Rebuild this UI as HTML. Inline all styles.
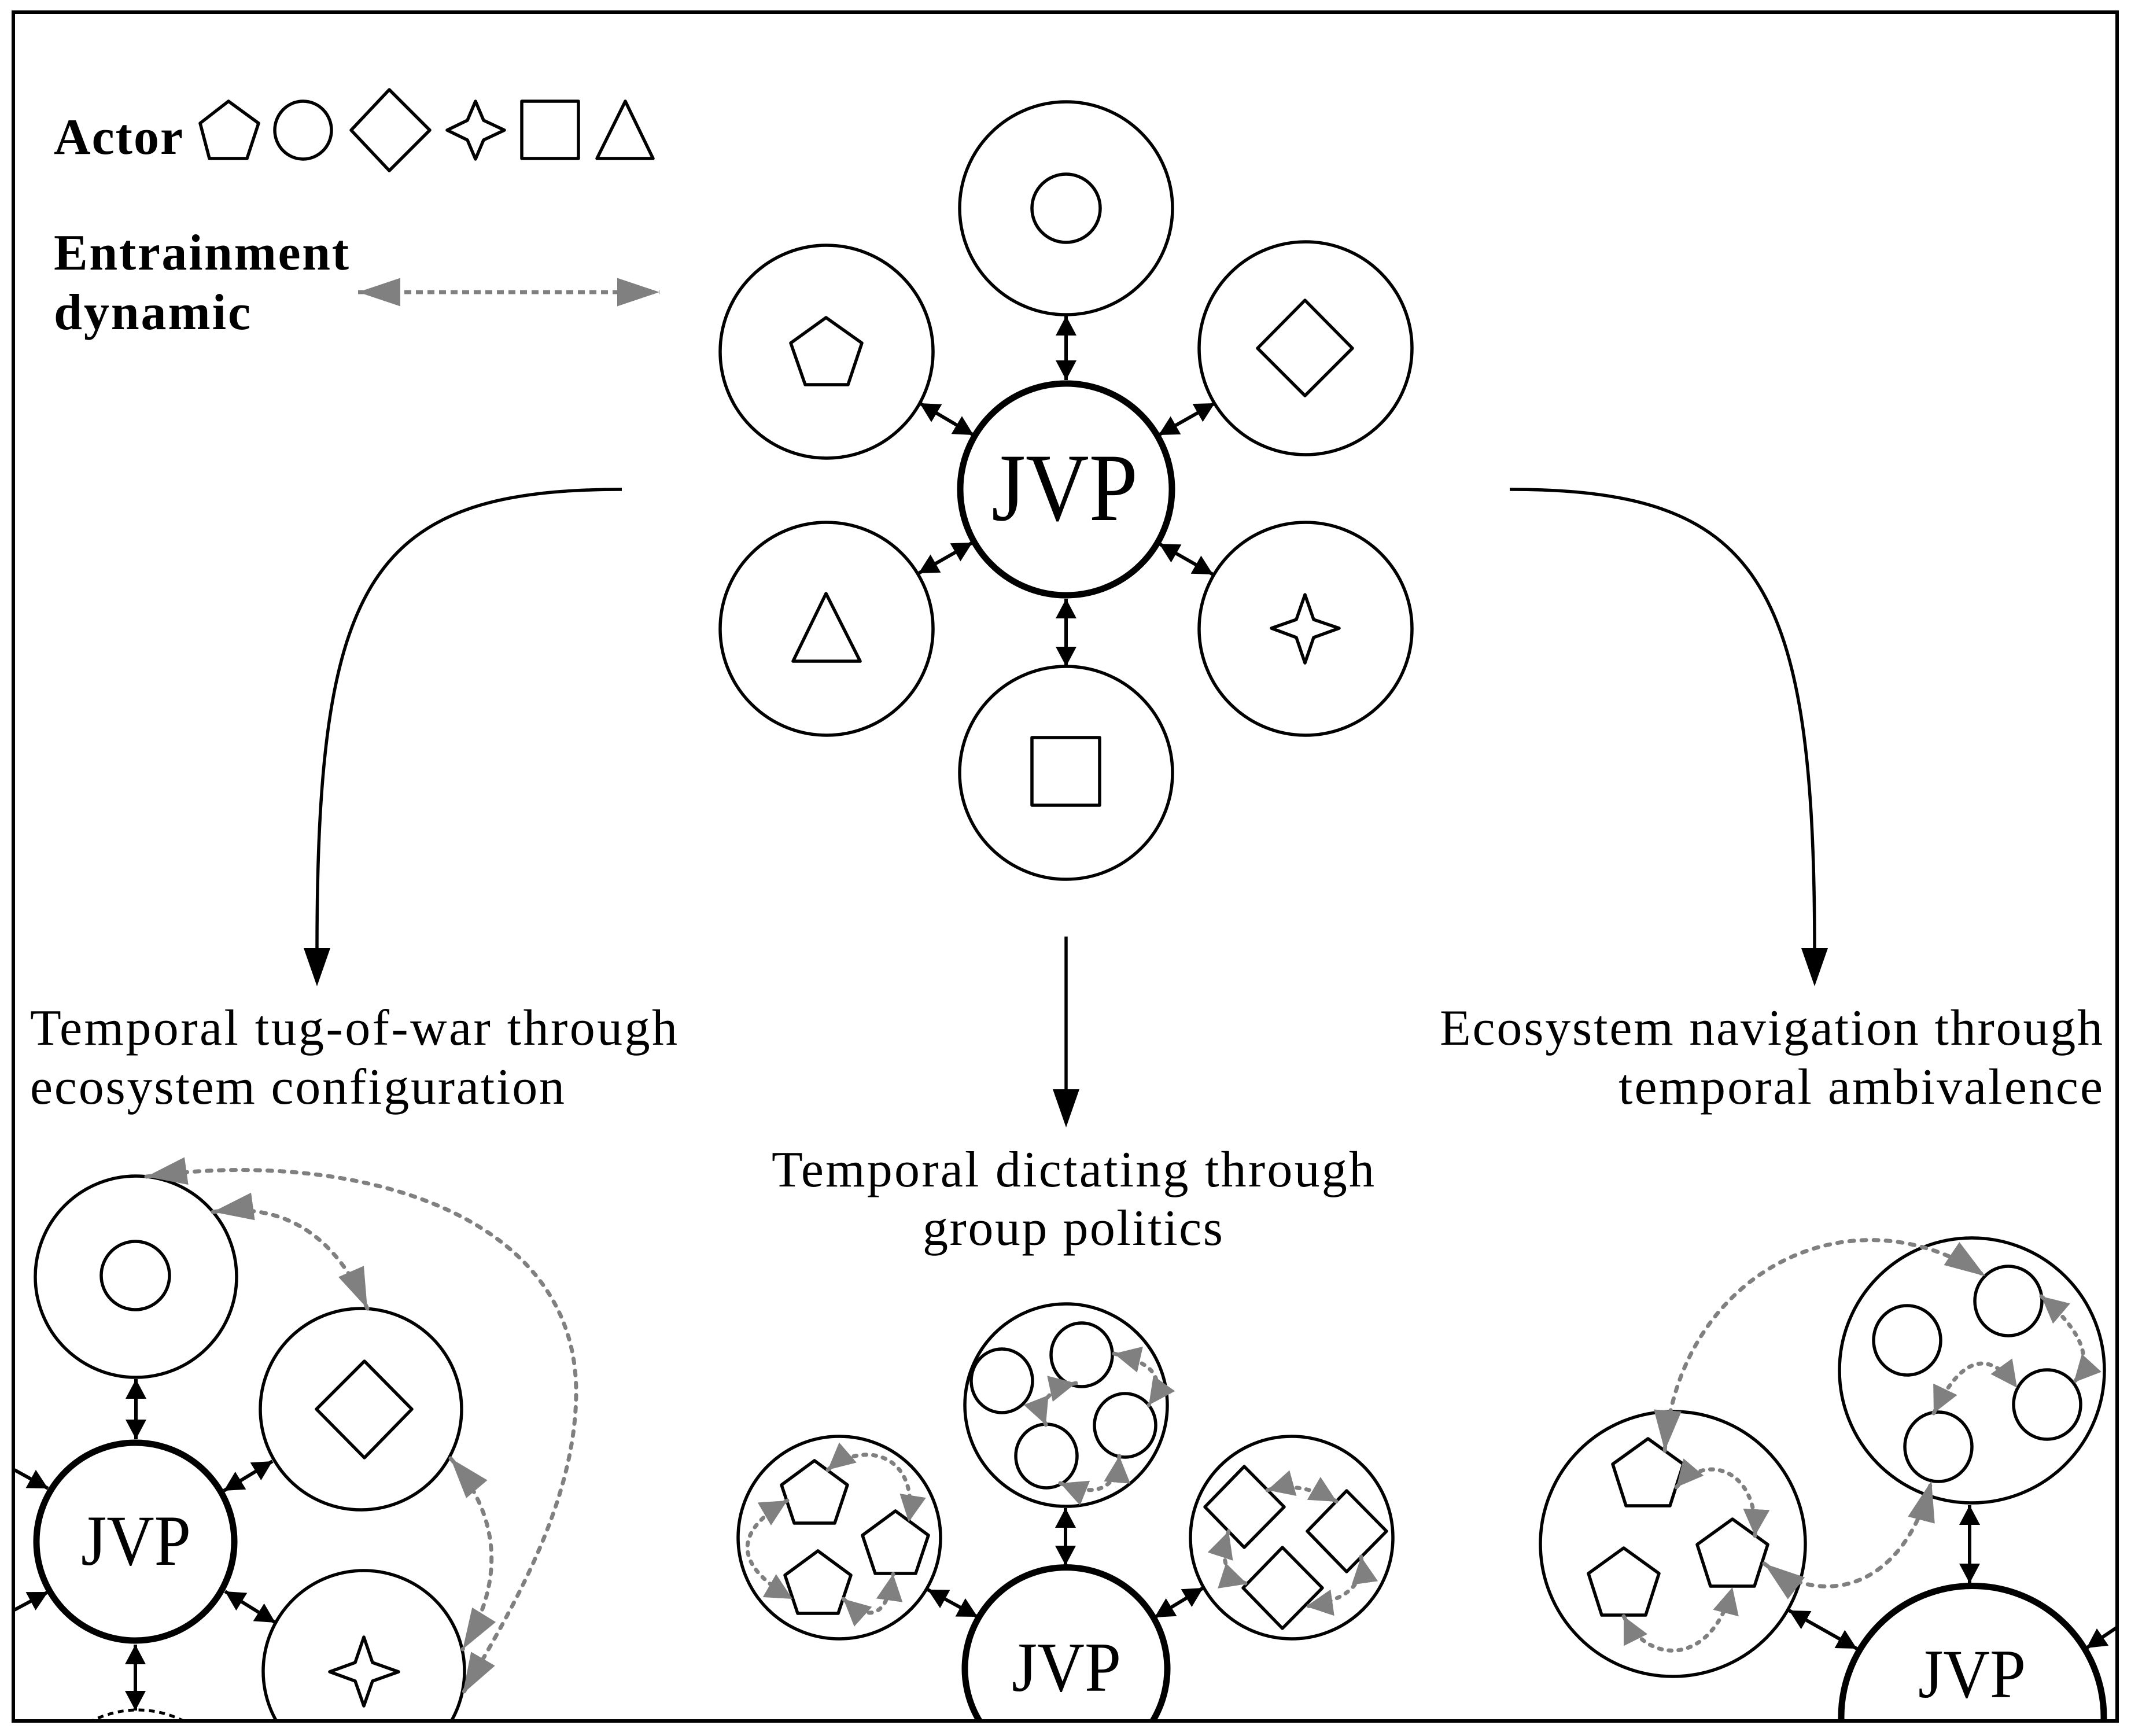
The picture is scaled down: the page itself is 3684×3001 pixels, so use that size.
<!DOCTYPE html>
<html><head><meta charset="utf-8"><title>JVP entrainment diagram</title>
<style>html,body{margin:0;padding:0;background:#fff;width:3684px;height:3001px;overflow:hidden}svg{display:block;overflow:hidden}
text{font-family:"Liberation Serif",serif;fill:#000}
.b{font-weight:bold;font-size:88px}.t{font-size:88px}
.c{fill:#fff;stroke:#000;stroke-width:5.5}.j{fill:#fff;stroke:#000;stroke-width:11}
.s{fill:#fff;stroke:#000;stroke-width:5.5;stroke-linejoin:round}
.k{stroke:#000;stroke-width:6;fill:none;marker-start:url(#bk);marker-end:url(#bk)}
.g{stroke:#808080;stroke-width:7;fill:none;stroke-dasharray:8 13;stroke-linecap:round;marker-start:url(#gb);marker-end:url(#gb)}
.h{stroke:#808080;stroke-width:7;fill:none;stroke-dasharray:5 12;stroke-linecap:round;marker-start:url(#gs);marker-end:url(#gs)}
</style></head><body>
<svg xmlns="http://www.w3.org/2000/svg" width="3684" height="3001" viewBox="0 0 3684 3001">
<defs>
<marker id="bk" markerUnits="userSpaceOnUse" markerWidth="34" markerHeight="36" viewBox="0 0 34 36" refX="34" refY="18" orient="auto-start-reverse"><path d="M0,0L34,18L0,36z" fill="#000"/></marker>
<marker id="gb" markerUnits="userSpaceOnUse" markerWidth="70" markerHeight="48" viewBox="0 0 70 48" refX="70" refY="24" orient="auto-start-reverse"><path d="M0,0L70,24L0,48z" fill="#808080"/></marker>
<marker id="gs" markerUnits="userSpaceOnUse" markerWidth="46" markerHeight="46" viewBox="0 0 46 46" refX="46" refY="23" orient="auto-start-reverse"><path d="M0,0L46,23L0,46z" fill="#808080"/></marker>
<marker id="gl" markerUnits="userSpaceOnUse" markerWidth="73" markerHeight="49" viewBox="0 0 73 49" refX="73" refY="24.5" orient="auto-start-reverse"><path d="M0,0L73,24.5L0,49z" fill="#808080"/></marker>
<marker id="ar" markerUnits="userSpaceOnUse" markerWidth="66" markerHeight="46" viewBox="0 0 66 46" refX="3" refY="23" orient="auto"><path d="M0,0L66,23L0,46z" fill="#000"/></marker>
<clipPath id="clip"><rect x="23" y="21" width="3637" height="2954"/></clipPath>
<polygon id="p1" points="0,0 57,42 35,108 -35,108 -57,42" class="s"/>
<polygon id="p2" points="0,0 61,44 38,116 -38,116 -61,44" class="s"/>
<polygon id="d1" points="0,-70 69,0 0,70 -68,0" class="s"/>
</defs>
<rect width="3684" height="3001" fill="#fff"/>
<g clip-path="url(#clip)">

<!-- legend -->
<text class="b" x="93" y="266" textLength="223" lengthAdjust="spacing">Actor</text>
<polygon class="s" points="395,175 447,213 427,274 362,274 346,213"/>
<ellipse class="c" cx="524" cy="225" rx="49" ry="50"/>
<polygon class="s" points="673,155 743,225 673,295 607,225"/>
<polygon class="s" points="822,175 836,208 872,225 836,242 822,275 808,242 773,225 808,208"/>
<rect class="s" x="902" y="175" width="98" height="99"/>
<polygon class="s" points="1081,175 1129,274 1032,274"/>
<text class="b" x="93" y="466" textLength="510" lengthAdjust="spacing">Entrainment</text>
<text class="b" x="93" y="569" textLength="340" lengthAdjust="spacing">dynamic</text>
<line x1="619" y1="505" x2="1140" y2="505" stroke="#808080" stroke-width="7" stroke-dasharray="12 8" marker-start="url(#gl)" marker-end="url(#gl)"/>

<!-- center cluster -->
<circle class="c" cx="1843" cy="360" r="184"/><circle class="c" cx="1843" cy="360" r="59"/>
<circle class="c" cx="1429" cy="608" r="184"/><polygon class="s" points="1428,549 1490,593 1466,665 1392,665 1367,593"/>
<circle class="c" cx="2257" cy="602" r="184"/><polygon class="s" points="2256,519 2338,602 2256,684 2174,602"/>
<circle class="c" cx="1429" cy="1087" r="184"/><polygon class="s" points="1428,1026 1487,1143 1371,1143"/>
<circle class="c" cx="2257" cy="1087" r="184"/><polygon class="s" points="2256,1028 2271,1071 2315,1086 2271,1102 2256,1146 2241,1102 2198,1086 2241,1071"/>
<circle class="c" cx="1843" cy="1336" r="184"/><rect class="s" x="1784" y="1275" width="117" height="117"/>
<circle class="j" cx="1843" cy="846" r="183"/>
<text x="1714" y="899" font-size="167" textLength="253" lengthAdjust="spacingAndGlyphs">JVP</text>
<line class="k" x1="1843" y1="546" x2="1843" y2="657"/>
<line class="k" x1="1590" y1="697" x2="1683" y2="752"/>
<line class="k" x1="2100" y1="697" x2="2003" y2="752"/>
<line class="k" x1="1588" y1="991" x2="1681" y2="938"/>
<line class="k" x1="2097" y1="993" x2="2004" y2="940"/>
<line class="k" x1="1843" y1="1035" x2="1843" y2="1152"/>

<!-- long arrows -->
<path d="M1075,846C640,846 548,1000 548,1642" fill="none" stroke="#000" stroke-width="5.5" marker-end="url(#ar)"/>
<path d="M2610,846C3040,846 3137,1000 3137,1642" fill="none" stroke="#000" stroke-width="5.5" marker-end="url(#ar)"/>
<line x1="1843" y1="1619" x2="1843" y2="1886" stroke="#000" stroke-width="5.5" marker-end="url(#ar)"/>

<!-- captions -->
<text class="t" x="52" y="1806" textLength="1119" lengthAdjust="spacing">Temporal tug-of-war through</text>
<text class="t" x="52" y="1908" textLength="924" lengthAdjust="spacing">ecosystem configuration</text>
<text class="t" x="2489" y="1806" textLength="1146" lengthAdjust="spacing">Ecosystem navigation through</text>
<text class="t" x="2798" y="1908" textLength="837" lengthAdjust="spacing">temporal ambivalence</text>
<text class="t" x="1334" y="2051" textLength="1042" lengthAdjust="spacing">Temporal dictating through</text>
<text class="t" x="1595" y="2152" textLength="519" lengthAdjust="spacing">group politics</text>

<!-- lower left -->
<circle class="c" cx="235" cy="2207" r="174"/><circle class="c" cx="234" cy="2205" r="59"/>
<circle class="c" cx="624" cy="2436" r="174"/><polygon class="s" points="630,2353 712,2436 630,2520 547,2436"/>
<path class="c" d="M479.5,2978A174,174 0 1 1 778.5,2978"/><polygon class="s" points="629,2830 644,2874 689,2890 644,2906 629,2949 614,2906 570,2890 614,2874"/>
<path d="M153.3,2978A174,174 0 0 1 322.7,2978" fill="#fff" stroke="#000" stroke-width="5" stroke-dasharray="10 8"/>
<circle class="j" cx="234" cy="2665" r="171"/>
<text x="140" y="2705" font-size="124" textLength="190" lengthAdjust="spacingAndGlyphs">JVP</text>
<line class="k" x1="235" y1="2384" x2="235" y2="2488"/>
<line class="k" x1="471" y1="2526" x2="387" y2="2577"/>
<line class="k" x1="389" y1="2751" x2="476" y2="2805"/>
<line class="k" x1="234" y1="2843" x2="234" y2="2957"/>
<line x1="25" y1="2541" x2="83" y2="2573" stroke="#000" stroke-width="6" marker-end="url(#bk)"/>
<line x1="25" y1="2783" x2="83" y2="2752" stroke="#000" stroke-width="6" marker-end="url(#bk)"/>
<path class="g" d="M253,2034C600,1985 996,2090 996,2406C996,2600 880,2790 800,2928"/>
<path class="g" d="M368,2095Q551,2070 635,2262"/>
<path class="g" d="M779,2521Q909,2674 800,2851"/>

<!-- lower middle -->
<circle class="c" cx="1843" cy="2429" r="175"/>
<ellipse class="c" cx="1732" cy="2387" rx="53" ry="55"/>
<ellipse class="c" cx="1870" cy="2342" rx="53" ry="55"/>
<ellipse class="c" cx="1945" cy="2464" rx="53" ry="55"/>
<ellipse class="c" cx="1809" cy="2517" rx="53" ry="55"/>
<circle class="c" cx="1451" cy="2658" r="175"/>
<use href="#p1" x="1408" y="2525"/><use href="#p1" x="1548" y="2612"/><use href="#p1" x="1414" y="2681"/>
<circle class="c" cx="2233" cy="2658" r="175"/>
<use href="#d1" x="2151" y="2605"/><use href="#d1" x="2328" y="2647"/><use href="#d1" x="2217" y="2745"/>
<path class="j" d="M1695,2978A175,175 0 1 1 1991,2978"/>
<text x="1749" y="2923" font-size="122" textLength="189" lengthAdjust="spacingAndGlyphs">JVP</text>
<line class="k" x1="1842" y1="2607" x2="1842" y2="2706"/>
<line class="k" x1="1604" y1="2748" x2="1690" y2="2795"/>
<line class="k" x1="2080" y1="2745" x2="1996" y2="2796"/>
<path class="h" d="M1431,2541C1490,2490 1590,2510 1571,2631"/>
<path class="h" d="M1361,2594Q1219,2677 1370,2764"/>
<path class="h" d="M1458,2764Q1529,2828 1544,2721"/>
<path class="h" d="M1926,2340Q2032,2364 1986,2429"/>
<path class="h" d="M1860,2391Q1786,2407 1808,2463"/>
<path class="h" d="M1833,2564Q1928,2602 1935,2517"/>
<path class="h" d="M2191,2576Q2249,2560 2311,2596"/>
<path class="h" d="M2124,2647Q2100,2720 2156,2738"/>
<path class="h" d="M2353,2691Q2363,2762 2258,2777"/>

<!-- lower right -->
<circle class="c" cx="3409" cy="2369" r="229"/>
<ellipse class="c" cx="3297" cy="2317" rx="58" ry="60"/>
<ellipse class="c" cx="3472" cy="2249" rx="58" ry="60"/>
<ellipse class="c" cx="3539" cy="2428" rx="58" ry="60"/>
<ellipse class="c" cx="3351" cy="2501" rx="58" ry="60"/>
<circle class="c" cx="2892" cy="2669" r="229"/>
<use href="#p2" x="2849" y="2487"/><use href="#p2" x="2995" y="2626"/><use href="#p2" x="2807" y="2676"/>
<path class="j" d="M3183.2,2978A227,227 0 1 1 3636.8,2978"/>
<text x="3316" y="2934" font-size="120" textLength="186" lengthAdjust="spacingAndGlyphs">JVP</text>
<line class="k" x1="3405" y1="2602" x2="3405" y2="2737"/>
<line class="k" x1="3093" y1="2784" x2="3210" y2="2850"/>
<line x1="3660" y1="2813" x2="3607" y2="2849" stroke="#000" stroke-width="6" marker-end="url(#bk)"/>
<path class="g" d="M2878,2508C2900,2200 3200,2050 3432,2206"/>
<path class="g" d="M3050,2703C3150,2780 3290,2750 3339,2560"/>
<path class="h" d="M2898,2571C2950,2510 3040,2540 3034,2655"/>
<path class="h" d="M2807,2794C2850,2880 2960,2880 2995,2744"/>
<path class="h" d="M3529,2241Q3637,2333 3585,2390"/>
<path class="h" d="M3343,2443Q3413,2297 3487,2399"/>
</g>
<rect x="23" y="21" width="3637" height="2954" fill="none" stroke="#000" stroke-width="6"/>
</svg>
</body></html>
